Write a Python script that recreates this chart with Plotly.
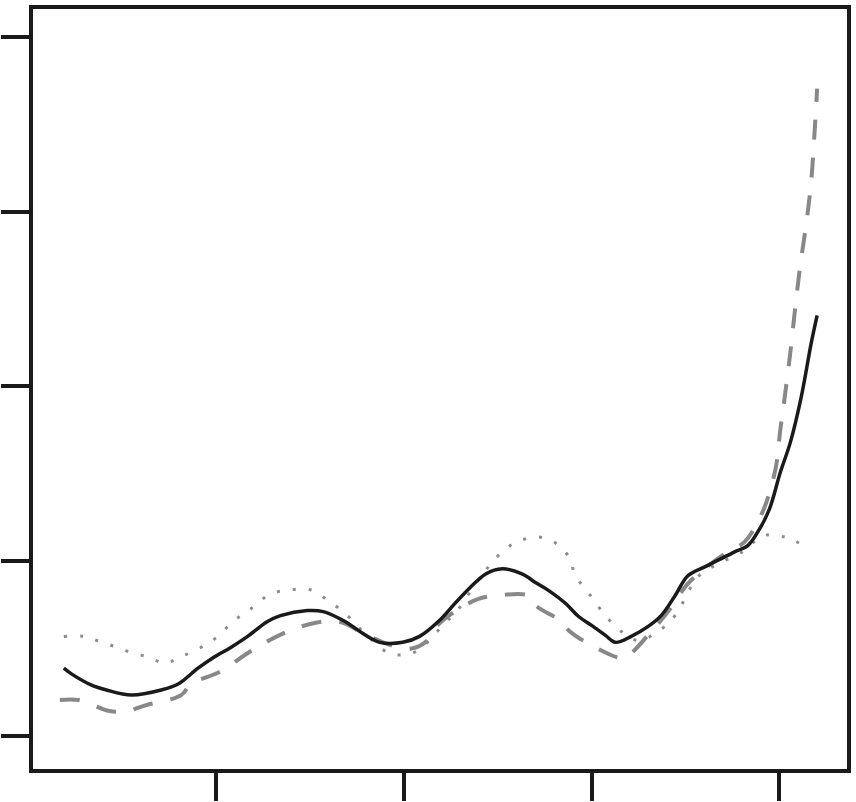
import plotly.graph_objects as go

# solid black curve
solid_x = [3.81, 4.66, 6.77, 8.36, 11.01, 14.18, 15.98, 18.10, 19.79, 21.59, 23.39, 25.50,
           26.88, 29.74, 31.43, 33.76, 35.34, 37.46, 39.89, 41.69, 43.80, 45.92, 48.78, 50.48,
           52.59, 54.07, 55.45, 57.25, 58.62, 60.00, 61.48, 62.54, 64.23, 66.03, 67.41, 68.89,
           70.26, 72.06, 73.76, 75.24, 76.61, 77.88, 78.94, 80.10, 81.16, 82.33, 83.39, 84.02]
solid_y = [0.387, 0.353, 0.290, 0.262, 0.233, 0.262, 0.296, 0.387, 0.450, 0.506, 0.569, 0.654,
           0.688, 0.717, 0.711, 0.654, 0.597, 0.535, 0.535, 0.569, 0.660, 0.785, 0.927, 0.956,
           0.927, 0.876, 0.831, 0.757, 0.683, 0.632, 0.575, 0.535, 0.569, 0.626, 0.688, 0.802,
           0.916, 0.967, 1.013, 1.053, 1.087, 1.183, 1.297, 1.508, 1.678, 1.940, 2.248, 2.407]

# dashed grey curve
dash_x = [3.39, 5.40, 8.68, 10.48, 12.59, 16.30, 17.35, 20.53, 23.70, 27.62, 31.43, 33.76,
          35.34, 38.84, 40.85, 42.43, 43.49, 45.92, 48.04, 49.84, 53.33, 54.07, 56.83, 57.57,
          60.21, 63.39, 64.23, 66.35, 68.15, 70.26, 72.70, 74.50, 76.30, 78.20, 79.58, 80.10,
          80.63, 81.16, 81.69, 82.22, 82.86, 83.39, 83.70, 84.02]
dash_y = [0.205, 0.205, 0.142, 0.142, 0.176, 0.233, 0.296, 0.370, 0.484, 0.597, 0.654, 0.643,
          0.597, 0.515, 0.500, 0.541, 0.626, 0.728, 0.785, 0.802, 0.802, 0.745, 0.654, 0.603,
          0.512, 0.444, 0.472, 0.597, 0.711, 0.871, 0.984, 1.053, 1.110, 1.280, 1.525, 1.752,
          1.963, 2.191, 2.452, 2.691, 2.930, 3.175, 3.414, 3.704]

# dotted grey curve
dot_x = [3.81, 6.03, 7.83, 9.52, 11.22, 12.91, 14.50, 16.19, 18.41, 20.21, 21.80, 23.49,
         25.71, 27.94, 30.05, 31.96, 33.76, 35.87, 38.52, 40.85, 42.54, 44.13, 45.71, 48.04,
         50.37, 52.06, 54.29, 55.98, 57.67, 58.20, 59.89, 61.48, 63.17, 64.97, 67.09, 68.89,
         71.32, 73.44, 76.09, 78.20, 80.53, 82.86]
dot_y = [0.569, 0.569, 0.535, 0.506, 0.472, 0.450, 0.415, 0.450, 0.506, 0.569, 0.654, 0.717,
         0.808, 0.836, 0.836, 0.774, 0.700, 0.586, 0.472, 0.472, 0.535, 0.632, 0.717, 0.899,
         1.047, 1.110, 1.138, 1.110, 1.018, 0.927, 0.802, 0.688, 0.597, 0.546, 0.597, 0.688,
         0.910, 0.984, 1.053, 1.144, 1.138, 1.081]

x_ticks = [20, 40, 60, 80]
y_ticks = [0, 1, 2, 3, 4]

fig = go.Figure()
fig.add_trace(go.Scatter(x=dot_x, y=dot_y, mode="lines", line_shape="spline",
                         line=dict(color="#8c8c8c", width=3, dash="3px,13px")))
fig.add_trace(go.Scatter(x=dash_x, y=dash_y, mode="lines", line_shape="spline",
                         line=dict(color="#888888", width=4, dash="20px,18px")))
fig.add_trace(go.Scatter(x=solid_x, y=solid_y, mode="lines", line_shape="spline",
                         line=dict(color="#1a1a1a", width=3.5)))

axis_style = dict(
    showline=True, mirror=True, linecolor="#1a1a1a", linewidth=4,
    ticks="outside", ticklen=28, tickwidth=4, tickcolor="#1a1a1a",
    showticklabels=False, showgrid=False, zeroline=False,
)
fig.update_layout(
    width=856, height=802,
    margin=dict(l=31, r=6, t=5, b=32),
    paper_bgcolor="white", plot_bgcolor="white",
    showlegend=False,
    xaxis=dict(range=[0.53, 87.2], tickvals=x_ticks, **axis_style),
    yaxis=dict(range=[-0.19, 4.16], tickvals=y_ticks, **axis_style),
)
# drop the default 8px page margin so the figure sits at the window origin
fig.write_html("out.html", config={"displayModeBar": False},
               post_script="document.body.style.margin='0';")
